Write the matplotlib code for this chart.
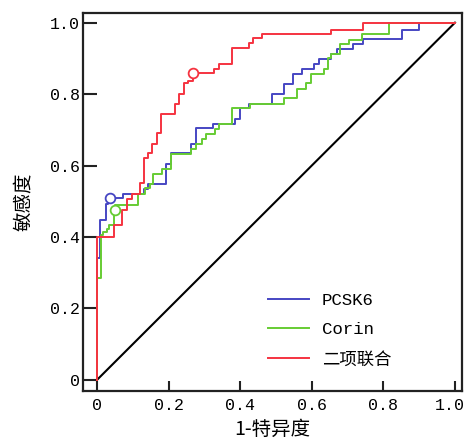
import matplotlib
matplotlib.use("Agg")
import matplotlib.pyplot as plt
import matplotlib.transforms as mtransforms

# ROC staircase points: at each fpr value the curve rises to tpr, then runs right
pcsk6_fpr = [0, 0, 0.008, 0.024, 0.030, 0.072, 0.132, 0.143, 0.193, 0.206, 0.264, 0.278,
             0.325, 0.385, 0.400, 0.425, 0.488, 0.522, 0.547, 0.572, 0.606, 0.621, 0.655,
             0.670, 0.716, 0.744, 0.851, 0.900, 1.0]
pcsk6_tpr = [0, 0.34, 0.447, 0.493, 0.508, 0.520, 0.535, 0.549, 0.605, 0.634, 0.660, 0.705,
             0.715, 0.730, 0.760, 0.773, 0.800, 0.827, 0.857, 0.870, 0.885, 0.899, 0.912,
             0.927, 0.940, 0.955, 0.980, 1.0, 1.0]

corin_fpr = [0, 0, 0.011, 0.017, 0.027, 0.034, 0.047, 0.050, 0.115, 0.134, 0.148, 0.157,
             0.183, 0.208, 0.264, 0.278, 0.292, 0.304, 0.330, 0.342, 0.378, 0.427, 0.522,
             0.558, 0.584, 0.597, 0.634, 0.646, 0.655, 0.679, 0.705, 0.740, 0.817, 1.0]
corin_tpr = [0, 0.285, 0.405, 0.415, 0.423, 0.433, 0.477, 0.490, 0.520, 0.538, 0.549, 0.575,
             0.591, 0.633, 0.647, 0.661, 0.675, 0.689, 0.703, 0.715, 0.762, 0.773, 0.790,
             0.815, 0.830, 0.857, 0.870, 0.900, 0.913, 0.940, 0.952, 0.968, 1.0, 1.0]

combo_fpr = [0, 0, 0.048, 0.069, 0.083, 0.097, 0.120, 0.132, 0.143, 0.155, 0.168, 0.180,
             0.218, 0.230, 0.243, 0.255, 0.267, 0.327, 0.342, 0.376, 0.425, 0.437, 0.460,
             0.655, 0.742, 1.0]
combo_tpr = [0, 0.40, 0.435, 0.477, 0.505, 0.520, 0.550, 0.620, 0.634, 0.660, 0.690, 0.745,
             0.773, 0.800, 0.830, 0.838, 0.860, 0.870, 0.885, 0.928, 0.942, 0.956, 0.968,
             0.980, 1.0, 1.0]

# cut-off points (circles)
pcsk6_cut = (0.036, 0.508)
corin_cut = (0.050, 0.477)
combo_cut = (0.267, 0.860)

labels = ["PCSK6", "Corin", "二项联合"]
colors = ["#4646c3", "#66cc33", "#f53340"]

ticks = [0, 0.2, 0.4, 0.6, 0.8, 1.0]
tick_labels = ["0", "0.2", "0.4", "0.6", "0.8", "1.0"]

mono = ["Liberation Mono", "Noto Sans CJK SC"]
cjk = ["Noto Sans CJK SC", "DejaVu Sans"]

fig = plt.figure(figsize=(4.66, 4.47), dpi=100)
ax = fig.add_axes([83/466, 1 - 391/447, 379/466, 378/447])

series = [(pcsk6_fpr, pcsk6_tpr, pcsk6_cut),
          (corin_fpr, corin_tpr, corin_cut),
          (combo_fpr, combo_tpr, combo_cut)]
for (fx, ty, cut), lab, col in zip(series, labels, colors):
    ax.step(fx, ty, where="post", color=col, lw=1.4, label=lab, zorder=3)
    ax.plot([cut[0]], [cut[1]], marker="o", ms=7, mfc="white", mec=col, mew=1.3,
            ls="none", zorder=4)

ax.plot([0, 1], [0, 1], color="black", lw=1.5, zorder=2)

ax.set_xlim(-0.039, 1.0196)
ax.set_ylim(-0.031, 1.027)
ax.set_xticks(ticks)
ax.set_xticklabels(tick_labels, family=mono, fontsize=12)
ax.set_yticks(ticks)
ax.set_yticklabels(tick_labels, family=mono, fontsize=12)
ax.tick_params(axis="x", direction="in", length=7, width=1.5, pad=5, color="#222222")
ax.tick_params(axis="y", direction="in", length=10, width=1.5, pad=2, color="#222222")
for s in ax.spines.values():
    s.set_linewidth(1.6)
    s.set_color("#222222")

# nudge the last x tick label left so it stays inside the figure
last = ax.get_xticklabels()[-1]
last.set_transform(last.get_transform() +
                   mtransforms.ScaledTranslation(-5/100, 0, fig.dpi_scale_trans))

ax.set_xlabel("1-特异度", family=cjk, fontsize=14, labelpad=4)
ax.set_ylabel("敏感度", family=cjk, fontsize=14, labelpad=12)

leg = ax.legend(loc="lower left", bbox_to_anchor=(0.488, 0.062), frameon=False,
                prop={"family": mono, "size": 12.5}, handlelength=2.35,
                handletextpad=0.75, labelspacing=0.82, borderpad=0, borderaxespad=0)
for h in leg.get_lines():
    h.set_linewidth(1.4)

fig.savefig("out.png", dpi=100)
